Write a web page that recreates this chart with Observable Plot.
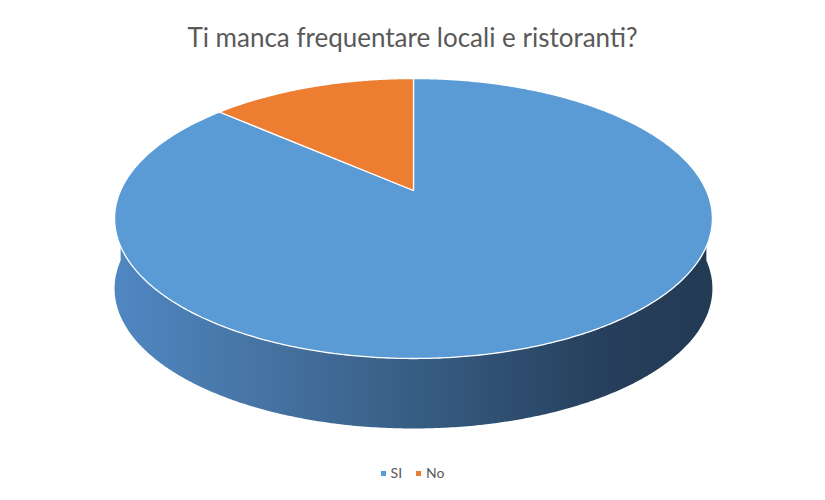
<!DOCTYPE html>
<html>
<head>
<meta charset="utf-8">
<script src="https://cdn.jsdelivr.net/npm/d3@7"></script>
<script src="https://cdn.jsdelivr.net/npm/@observablehq/plot@0.6"></script>
<style>
  html, body { margin: 0; padding: 0; background: #ffffff; }
  #wrap { width: 825px; height: 500px; position: relative; overflow: hidden; }
  #title { height: 36px; padding-top: 24px; text-align: center; font-family: Lato, "Open Sans", sans-serif;
           font-size: 26px; line-height: 26px; color: #595959; white-space: nowrap; }
  #chart svg { display: block; }
  #legend { height: 35px; padding-top: 15px; display: flex; justify-content: center; align-items: flex-start;
            font-family: Lato, "Open Sans", sans-serif; font-size: 14px; line-height: 16px; color: #595959; }
  .item { display: flex; align-items: center; margin: 0 7px; }
  .sw { width: 5px; height: 5px; margin-right: 5px; }
</style>
</head>
<body>
<div id="wrap">
  <div id="title">Ti manca frequentare locali e ristoranti?</div>
  <div id="chart"></div>
  <div id="legend"></div>
</div>
<script>
// Data
const categories = ["SI", "No"];
const values = [86.5, 13.5];
const colors = ["#5b9bd5", "#ed7d31"];
const sideStops = [
  ["#5087c2", "#436f9c", "#35597e", "#263f5c", "#233a54"],
  ["#d9722d", "#b55f25", "#8f4b1d", "#6e3a16", "#603313"]
];

// 3D view parameters (perspective projection of a tilted disc)
const elev = 27.05 * Math.PI / 180;      // tilt of the pie
const sE = Math.sin(elev), cE = Math.cos(elev);
const dist = 5 * cE;                     // camera distance (in radii)
const xSquash = 0.991;                   // horizontal aspect correction
const focal = 1316, cx = 413, cy = 190, svgTop = 60, W = 825, H = 390;
const thickPx = 70;                      // visible thickness of the pie wall
const thick = thickPx / focal;

function project(a, bottom) {
  const X = Math.sin(a), Z = Math.cos(a);
  const w = dist + Z * cE;
  return {x: xSquash * X / w, y: Z * sE / w - (bottom ? thick : 0)};
}

const total = d3.sum(values);
let acc = 0;
const slices = categories.map((c, i) => {
  const a0 = acc / total * 360;
  acc += values[i];
  const a1 = acc / total * 360;
  return {c, i, a0, a1};
});

const rad = a => a * Math.PI / 180;
function arcAngles(a0, a1) {
  const out = [];
  for (let a = a0; a < a1; a += 0.5) out.push(a);
  out.push(a1);
  return out;
}
const topPts = s => [{x: 0, y: 0}, ...arcAngles(s.a0, s.a1).map(a => project(rad(a), false))];
function sidePts(s) {
  const s0 = Math.max(s.a0, 90), s1 = Math.min(s.a1, 270);
  if (s0 >= s1) return null;
  const ang = arcAngles(s0, s1);
  const upper = ang.map(a => project(rad(a), false));
  const lower = ang.slice().reverse().map(a => project(rad(a), true));
  return [...upper, ...lower];
}

const marks = [];
slices.forEach(s => {
  const p = sidePts(s);
  if (p) marks.push(Plot.line(p, {x: "x", y: "y", fill: `url(#side${s.i})`, stroke: "none", curve: "linear-closed"}));
});
slices.forEach(s => {
  marks.push(Plot.line(topPts(s), {x: "x", y: "y", fill: colors[s.i], stroke: "#ffffff", strokeWidth: 1.3, strokeLinejoin: "round", curve: "linear-closed"}));
});

const chart = Plot.plot({
  width: W,
  height: H,
  margin: 0,
  x: {domain: [(0 - cx) / focal, (W - cx) / focal], axis: null},
  y: {domain: [(cy - (svgTop + H)) / focal, (cy - svgTop) / focal], axis: null},
  marks
});

// gradients for the side walls
const svg = d3.select(chart);
const defs = svg.insert("defs", ":first-child");
slices.forEach(s => {
  const g = defs.append("linearGradient").attr("id", `side${s.i}`)
    .attr("x1", "0").attr("x2", "1").attr("y1", "0").attr("y2", "0");
  const st = sideStops[s.i];
  const offs = [0, 0.3, 0.55, 0.82, 1];
  st.forEach((c, k) => g.append("stop").attr("offset", offs[k]).attr("stop-color", c));
});
document.getElementById("chart").appendChild(chart);

// legend
const legend = d3.select("#legend");
categories.forEach((c, i) => {
  const it = legend.append("div").attr("class", "item");
  it.append("div").attr("class", "sw").style("background", colors[i]);
  it.append("span").text(c);
});
</script>
</body>
</html>
